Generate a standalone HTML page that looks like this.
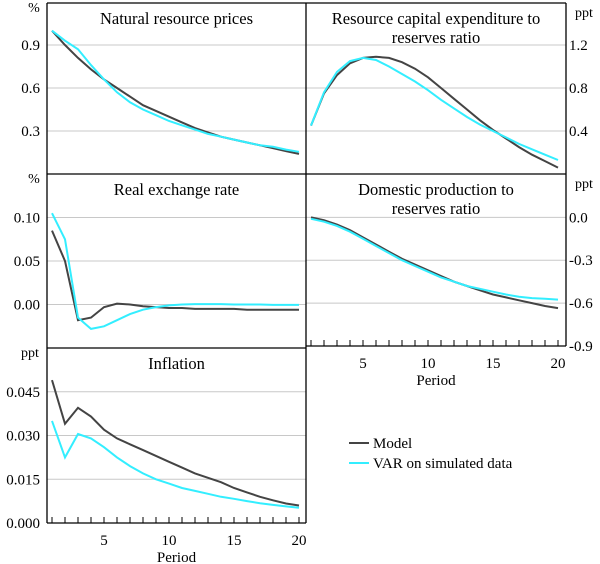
<!DOCTYPE html>
<html><head><meta charset="utf-8">
<style>
body{margin:0;background:#fff}
svg{display:block;font-family:"Liberation Serif",serif}
</style></head>
<body>
<svg id="c" width="600" height="564"></svg>
<script>
const periods=[1,2,3,4,5,6,7,8,9,10,11,12,13,14,15,16,17,18,19,20];
const nrpModel=[1.0,.90,.81,.73,.66,.60,.54,.48,.44,.40,.36,.32,.29,.26,.24,.22,.20,.18,.16,.14];
const nrpVar=[1.0,.93,.87,.76,.66,.57,.50,.45,.41,.37,.34,.31,.28,.26,.24,.22,.20,.19,.17,.155];
const capModel=[.45,.75,.92,1.03,1.08,1.09,1.08,1.04,.98,.90,.80,.70,.60,.50,.41,.33,.25,.18,.12,.06];
const capVar=[.45,.76,.95,1.05,1.08,1.06,1.0,.93,.86,.78,.69,.61,.53,.46,.40,.34,.28,.23,.18,.13];
const rerModel=[.085,.05,-.018,-.015,-.003,.001,0,-.002,-.003,-.004,-.004,-.005,-.005,-.005,-.005,-.006,-.006,-.006,-.006,-.006];
const rerVar=[.105,.075,-.015,-.028,-.025,-.018,-.011,-.006,-.003,-.001,0,.0005,.0005,.0005,0,0,0,-.0005,-.0005,-.0005];
const domModel=[0,-.02,-.05,-.09,-.14,-.19,-.24,-.29,-.33,-.37,-.41,-.45,-.48,-.51,-.54,-.56,-.58,-.60,-.62,-.635];
const domVar=[-.01,-.03,-.06,-.10,-.15,-.20,-.25,-.30,-.34,-.38,-.42,-.45,-.48,-.50,-.52,-.54,-.555,-.565,-.57,-.575];
const infModel=[.049,.034,.0395,.0365,.032,.029,.027,.025,.023,.021,.019,.017,.0155,.014,.012,.0105,.009,.0078,.0067,.006];
const infVar=[.035,.0225,.0305,.029,.026,.0225,.0195,.017,.015,.0135,.012,.011,.010,.009,.0083,.0075,.0068,.0062,.0057,.0052];
const xTicks=[5,10,15,20];

const NS="http://www.w3.org/2000/svg";
const svg=document.getElementById('c');
function mk(t,a,p){const e=document.createElementNS(NS,t);for(const k in a)e.setAttribute(k,a[k]);(p||svg).appendChild(e);return e;}
function txt(s,x,y,anchor,size){const e=mk('text',{x:x,y:y,'text-anchor':anchor||'middle','font-size':size||15,fill:'#000'});e.textContent=s;return e;}

const panels=[
 {name:'natural-resource-prices',x0:47,x1:306,y0:3,y1:174,min:0,max:0.3*171/43,ticks:[0.3,0.6,0.9],fmt:1,side:'left',unit:'%',title:['Natural resource prices'],m:nrpModel,v:nrpVar},
 {name:'capex-to-reserves',x0:306,x1:566,y0:3,y1:174,min:0,max:0.4*171/43,ticks:[0.4,0.8,1.2],fmt:1,side:'right',unit:'ppt',title:['Resource capital expenditure to','reserves ratio'],m:capModel,v:capVar},
 {name:'real-exchange-rate',x0:47,x1:306,y0:174,y1:348,min:-0.05,max:0.15,ticks:[0,0.05,0.10],fmt:2,side:'left',unit:'%',title:['Real exchange rate'],m:rerModel,v:rerVar},
 {name:'domestic-production-to-reserves',x0:306,x1:566,y0:174,y1:346,min:-0.9,max:0.3*44/43.5,ticks:[-0.9,-0.6,-0.3,0],fmt:1,side:'right',unit:'ppt',title:['Domestic production to','reserves ratio'],m:domModel,v:domVar,xaxis:true},
 {name:'inflation',x0:47,x1:306,y0:348,y1:523,min:0,max:0.06,ticks:[0,0.015,0.030,0.045],fmt:3,side:'left',unit:'ppt',title:['Inflation'],m:infModel,v:infVar,xaxis:true}
];

panels.forEach(P=>{
 const g=mk('g',{});
 
 
 const xs=p=>P.x0+5+(p-1)*13;
 const ys=v=>P.y1-(v-P.min)/(P.max-P.min)*(P.y1-P.y0);
 P.ticks.forEach(t=>{
  const y=ys(t);
  if(y>P.y0+1&&y<P.y1-1){const l=mk('line',{x1:P.x0,x2:P.x1,y1:y,y2:y,stroke:'#c8c8c8','stroke-width':1},g);
   }
  const lab=P.side==='left'?txt(t.toFixed(P.fmt),40,y+5,'end'):txt(t.toFixed(P.fmt),569,y+5,'start');
  
 });
 const u=P.side==='left'?txt(P.unit,P.unit==='%'?34:30,P.y0+9,'middle',14):txt(P.unit,584,P.y0+14,'middle',14);
 
 P.title.forEach((s,i)=>{const t=txt(s,(P.x0+P.x1)/2,P.y0+21+i*19,'middle',16.5);
  });
 [[P.m,'#444','model-line'],[P.v,'#33eeff','var-line']].forEach(([arr,col,nm])=>{
  const d=arr.map((v,i)=>(i?'L':'M')+xs(periods[i]).toFixed(1)+','+ys(v).toFixed(1)).join('');
  const path=mk('path',{d:d,fill:'none',stroke:col,'stroke-width':2},g);
  
 });
 if(P.xaxis){
  periods.forEach(p=>{const x=xs(p);mk('line',{x1:x,x2:x,y1:P.y1,y2:P.y1-6,stroke:'#000','stroke-width':1},g);});
  xTicks.forEach(p=>{const t=txt(String(p),xs(p),P.y1+22);});
  const pl=txt('Period',(P.x0+P.x1)/2,P.y1+39);
 }
});
// frame lines
[[47,3,566,3],[47,174,566,174],[306,3,306,523],[47,3,47,523],[566,3,566,346],[306,346,566,346],[47,348,306,348],[47,523,306,523]].forEach(a=>{
 const l=mk('line',{x1:a[0],y1:a[1],x2:a[2],y2:a[3],stroke:'#000','stroke-width':1.3});
 
});
// legend
const lg=mk('g',{});


mk('line',{x1:349,x2:369,y1:443,y2:443,stroke:'#444','stroke-width':2},lg);
mk('line',{x1:349,x2:369,y1:463,y2:463,stroke:'#33eeff','stroke-width':2},lg);
const l1=txt('Model',373,448,'start',15);
const l2=txt('VAR on simulated data',373,468,'start',15);
</script>
</body></html>
